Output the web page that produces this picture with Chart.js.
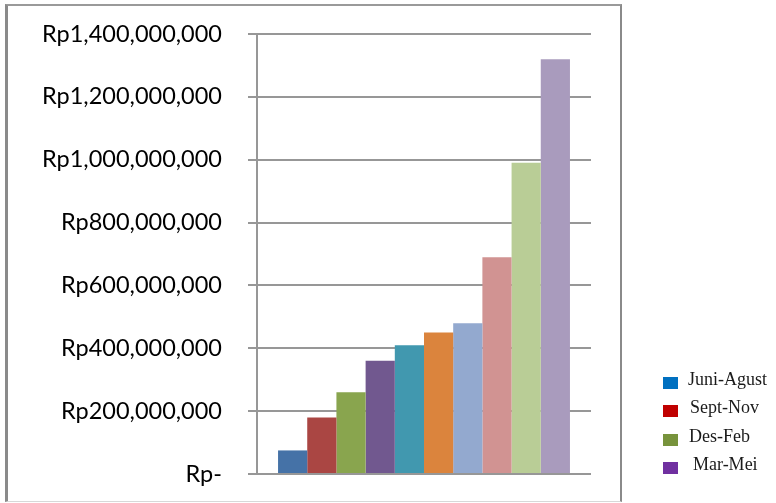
<!DOCTYPE html>
<html>
<head>
<meta charset="utf-8">
<script src="https://cdn.jsdelivr.net/npm/chart.js@4"></script>
<style>
  html, body { margin: 0; padding: 0; background: #fff; }
  #wrap { position: relative; width: 776px; height: 503px; overflow: hidden; }
  #frame { position: absolute; left: 5px; top: 4px; width: 612px; height: 495px;
    border-left: 3px solid #8a8a8a; border-top: 2px solid #9a9a9a;
    border-right: 2px solid #8a8a8a; border-bottom: 1px solid #d8d8d8; }
  canvas { position: absolute; left: 0; top: 0; }
  .leg { position: absolute; font-family: "Liberation Serif", "DejaVu Serif", serif; font-size: 18px; color: #1a1a1a; line-height: 18px; white-space: nowrap; }
  .sw { position: absolute; width: 15px; height: 12px; }
</style>
</head>
<body>
<div id="wrap">
  <div id="frame"></div>
  <canvas id="c" width="776" height="503"></canvas>
  <div id="legend"></div>
</div>
<script>
// ---- data ----
const categories = [''];
const seriesValues = [75000000, 180000000, 260000000, 360000000, 410000000, 450000000, 480000000, 690000000, 990000000, 1320000000];
const seriesColors = ['#4572A7', '#AA4643', '#89A54E', '#71588F', '#4198AF', '#DB843D', '#93A9CF', '#D19392', '#B9CD96', '#A99BBD'];
const tickLabels = ['Rp-', 'Rp200,000,000', 'Rp400,000,000', 'Rp600,000,000', 'Rp800,000,000', 'Rp1,000,000,000', 'Rp1,200,000,000', 'Rp1,400,000,000'];
const legendLabels = ['Juni-Agust', 'Sept-Nov', 'Des-Feb', 'Mar-Mei'];
const legendColors = ['#0070C0', '#C00000', '#77933C', '#7030A0'];

// ---- legend (html) ----
const legendTops = [377, 405, 434, 462];
const legendTextX = [688, 690, 689, 693];
const legendEl = document.getElementById('legend');
legendLabels.forEach((lab, i) => {
  const sw = document.createElement('div');
  sw.className = 'sw';
  sw.style.left = '663px';
  sw.style.top = legendTops[i] + 'px';
  sw.style.background = legendColors[i];
  legendEl.appendChild(sw);
  const t = document.createElement('div');
  t.className = 'leg';
  t.style.left = legendTextX[i] + 'px';
  t.style.top = (legendTops[i] - 7) + 'px';
  t.textContent = lab;
  legendEl.appendChild(t);
});

// ---- chart ----
const datasets = seriesValues.map((v, i) => ({
  label: 'S' + (i + 1),
  data: [v],
  backgroundColor: seriesColors[i],
  borderWidth: 0,
  barPercentage: 1,
  categoryPercentage: 0.874
}));

new Chart(document.getElementById('c'), {
  type: 'bar',
  data: { labels: categories, datasets: datasets },
  options: {
    responsive: false,
    animation: false,
    devicePixelRatio: 1,
    layout: { padding: { top: 34, left: 0, right: 185, bottom: 29 } },
    plugins: { legend: { display: false }, tooltip: { enabled: false } },
    scales: {
      x: { display: false },
      y: {
        min: 0, max: 1400000000,
        ticks: {
          stepSize: 200000000,
          padding: 26,
          color: '#000',
          font: { family: 'Lato', size: 23.5 },
          callback: (v, i) => tickLabels[i]
        },
        grid: { color: '#979797', lineWidth: 2, tickLength: 9, drawTicks: true },
        border: { color: '#979797', width: 2 },
        afterFit: (s) => { s.width = 257; s.paddingTop = 0; s.paddingBottom = 0; }
      }
    }
  }
});
</script>
</body>
</html>
